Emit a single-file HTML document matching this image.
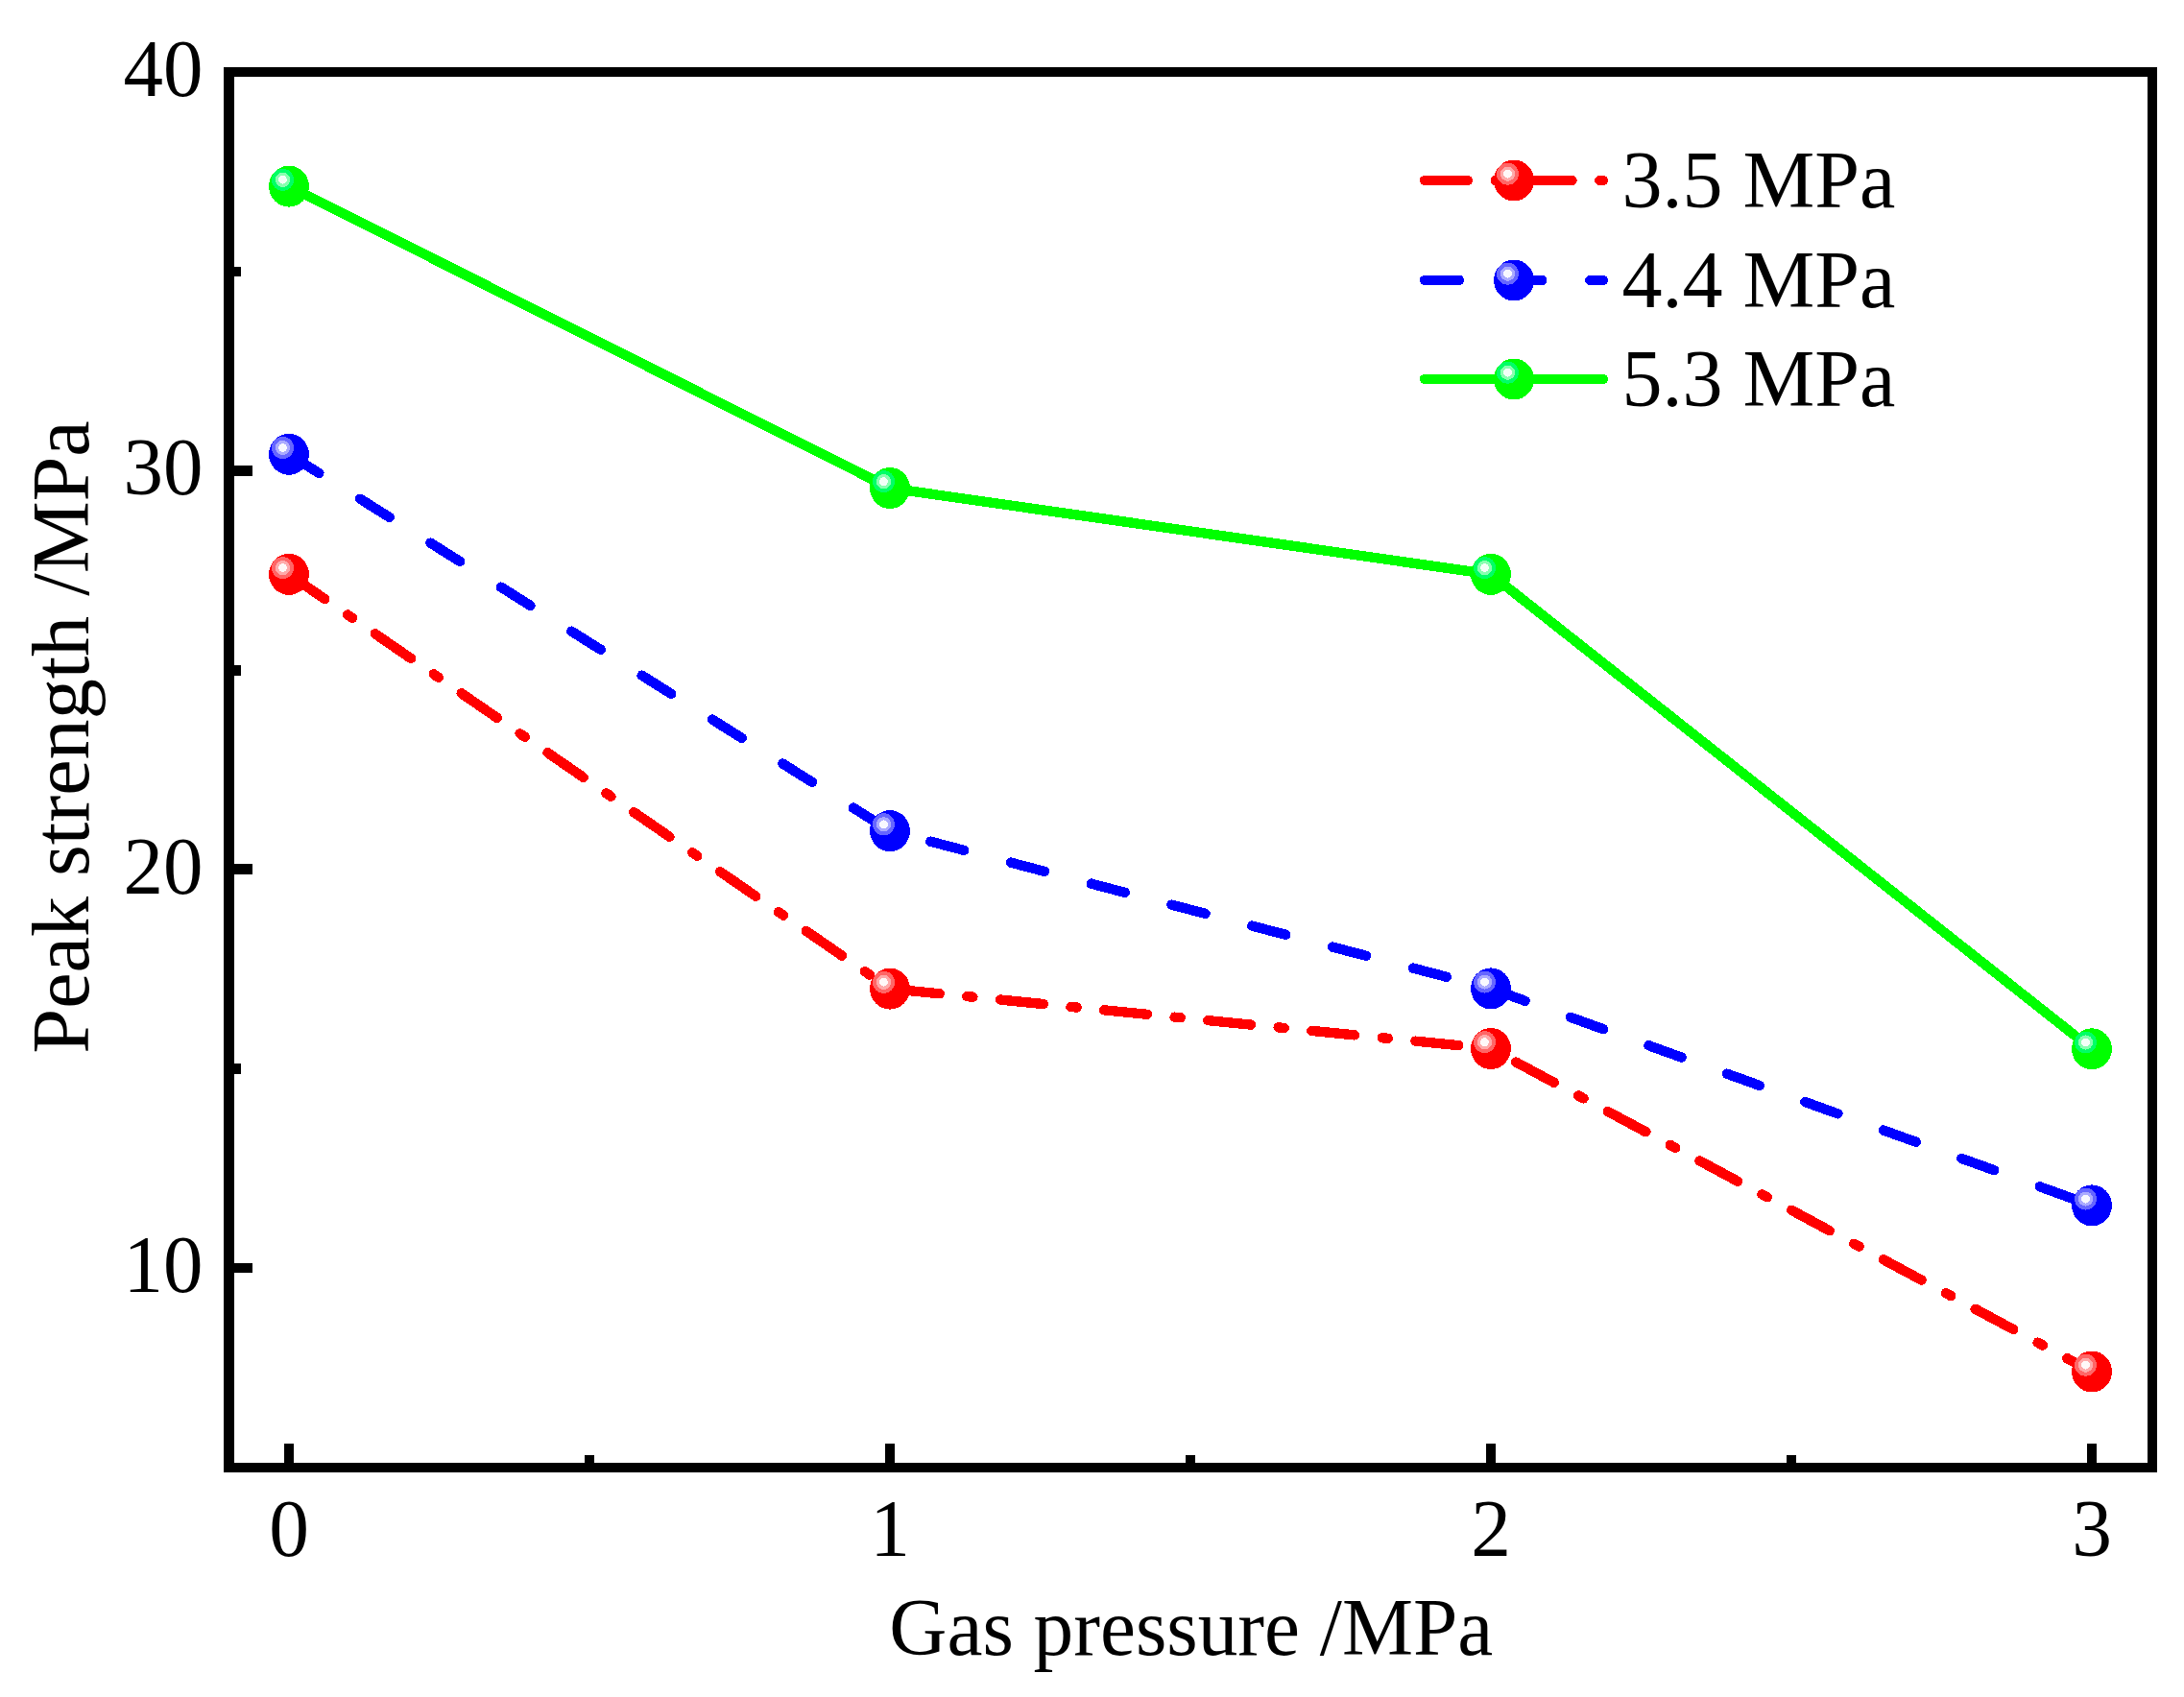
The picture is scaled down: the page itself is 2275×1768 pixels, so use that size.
<!DOCTYPE html>
<html lang="en"><head><meta charset="utf-8"><title>Peak strength vs gas pressure</title>
<style>html,body{margin:0;padding:0;background:#fff;}svg{display:block;}text{font-family:"Liberation Serif",serif;font-size:83.4px;fill:#000;}</style></head><body>
<svg width="2275" height="1768" viewBox="0 0 2275 1768">
<rect x="0" y="0" width="2275" height="1768" fill="#fff"/>
<g shape-rendering="crispEdges">
<line x1="301.0" y1="598.4" x2="927.0" y2="1030.1" fill="none" stroke="#ff0000" stroke-width="10.4" stroke-linecap="round" stroke-linejoin="round" stroke-dasharray="45.20 28.90 6.10 28.90" stroke-dashoffset="0.00"/><line x1="927.0" y1="1030.1" x2="1553.0" y2="1092.5" fill="none" stroke="#ff0000" stroke-width="10.4" stroke-linecap="round" stroke-linejoin="round" stroke-dasharray="45.01 28.78 6.07 28.78" stroke-dashoffset="101.68"/><line x1="1553.0" y1="1092.5" x2="2179.0" y2="1429.0" fill="none" stroke="#ff0000" stroke-width="10.4" stroke-linecap="round" stroke-linejoin="round" stroke-dasharray="45.01 28.78 6.07 28.78" stroke-dashoffset="78.98"/>
<ellipse cx="301.0" cy="598.4" rx="20.9" ry="21.5" fill="#ff0000"/><circle cx="294.5" cy="591.6" r="11.5" fill="#ff6666"/><circle cx="294.5" cy="591.6" r="7.6" fill="#ffaaaa"/><circle cx="294.5" cy="591.6" r="4.4" fill="#fff8f8"/>
<ellipse cx="927.0" cy="1030.1" rx="20.9" ry="21.5" fill="#ff0000"/><circle cx="920.5" cy="1023.3" r="11.5" fill="#ff6666"/><circle cx="920.5" cy="1023.3" r="7.6" fill="#ffaaaa"/><circle cx="920.5" cy="1023.3" r="4.4" fill="#fff8f8"/>
<ellipse cx="1553.0" cy="1092.5" rx="20.9" ry="21.5" fill="#ff0000"/><circle cx="1546.5" cy="1085.7" r="11.5" fill="#ff6666"/><circle cx="1546.5" cy="1085.7" r="7.6" fill="#ffaaaa"/><circle cx="1546.5" cy="1085.7" r="4.4" fill="#fff8f8"/>
<ellipse cx="2179.0" cy="1429.0" rx="20.9" ry="21.5" fill="#ff0000"/><circle cx="2172.5" cy="1422.2" r="11.5" fill="#ff6666"/><circle cx="2172.5" cy="1422.2" r="7.6" fill="#ffaaaa"/><circle cx="2172.5" cy="1422.2" r="4.4" fill="#fff8f8"/>
<line x1="301.0" y1="473.3" x2="927.0" y2="865.6" fill="none" stroke="#0000ff" stroke-width="10.4" stroke-linecap="round" stroke-linejoin="round" stroke-dasharray="36.20 50.40" stroke-dashoffset="85.80"/><line x1="927.0" y1="865.6" x2="1553.0" y2="1029.9" fill="none" stroke="#0000ff" stroke-width="10.4" stroke-linecap="round" stroke-linejoin="round" stroke-dasharray="36.20 50.40" stroke-dashoffset="42.97"/><line x1="1553.0" y1="1029.9" x2="2179.0" y2="1255.9" fill="none" stroke="#0000ff" stroke-width="10.4" stroke-linecap="round" stroke-linejoin="round" stroke-dasharray="36.20 50.40" stroke-dashoffset="84.97"/>
<ellipse cx="301.0" cy="473.3" rx="20.9" ry="21.5" fill="#0000ff"/><circle cx="294.5" cy="466.5" r="11.5" fill="#6666ff"/><circle cx="294.5" cy="466.5" r="7.6" fill="#aaaaff"/><circle cx="294.5" cy="466.5" r="4.4" fill="#f8f8ff"/>
<ellipse cx="927.0" cy="865.6" rx="20.9" ry="21.5" fill="#0000ff"/><circle cx="920.5" cy="858.8" r="11.5" fill="#6666ff"/><circle cx="920.5" cy="858.8" r="7.6" fill="#aaaaff"/><circle cx="920.5" cy="858.8" r="4.4" fill="#f8f8ff"/>
<ellipse cx="1553.0" cy="1029.9" rx="20.9" ry="21.5" fill="#0000ff"/><circle cx="1546.5" cy="1023.1" r="11.5" fill="#6666ff"/><circle cx="1546.5" cy="1023.1" r="7.6" fill="#aaaaff"/><circle cx="1546.5" cy="1023.1" r="4.4" fill="#f8f8ff"/>
<ellipse cx="2179.0" cy="1255.9" rx="20.9" ry="21.5" fill="#0000ff"/><circle cx="2172.5" cy="1249.1" r="11.5" fill="#6666ff"/><circle cx="2172.5" cy="1249.1" r="7.6" fill="#aaaaff"/><circle cx="2172.5" cy="1249.1" r="4.4" fill="#f8f8ff"/>
<polyline points="301.0,194.1 927.0,508.5 1553.0,598.4 2179.0,1092.8" fill="none" stroke="#00ff00" stroke-width="10.4" stroke-linecap="round" stroke-linejoin="round"/>
<ellipse cx="301.0" cy="194.1" rx="20.9" ry="21.5" fill="#00ff00"/><circle cx="294.5" cy="187.3" r="11.5" fill="#00ff66"/><circle cx="294.5" cy="187.3" r="7.6" fill="#88ffb0"/><circle cx="294.5" cy="187.3" r="4.4" fill="#f4fff8"/>
<ellipse cx="927.0" cy="508.5" rx="20.9" ry="21.5" fill="#00ff00"/><circle cx="920.5" cy="501.7" r="11.5" fill="#00ff66"/><circle cx="920.5" cy="501.7" r="7.6" fill="#88ffb0"/><circle cx="920.5" cy="501.7" r="4.4" fill="#f4fff8"/>
<ellipse cx="1553.0" cy="598.4" rx="20.9" ry="21.5" fill="#00ff00"/><circle cx="1546.5" cy="591.6" r="11.5" fill="#00ff66"/><circle cx="1546.5" cy="591.6" r="7.6" fill="#88ffb0"/><circle cx="1546.5" cy="591.6" r="4.4" fill="#f4fff8"/>
<ellipse cx="2179.0" cy="1092.8" rx="20.9" ry="21.5" fill="#00ff00"/><circle cx="2172.5" cy="1086.0" r="11.5" fill="#00ff66"/><circle cx="2172.5" cy="1086.0" r="7.6" fill="#88ffb0"/><circle cx="2172.5" cy="1086.0" r="4.4" fill="#f4fff8"/>
</g>
<g shape-rendering="crispEdges" fill="#000">
<rect x="233" y="70" width="2014" height="10"/>
<rect x="233" y="1524" width="2014" height="10"/>
<rect x="233" y="70" width="11" height="1464"/>
<rect x="2237" y="70" width="10" height="1464"/>
<rect x="244" y="485" width="19" height="11"/>
<rect x="244" y="900" width="19" height="11"/>
<rect x="244" y="1316" width="19" height="10"/>
<rect x="244" y="278" width="7" height="10"/>
<rect x="244" y="693" width="7" height="11"/>
<rect x="244" y="1108" width="7" height="11"/>
<rect x="296" y="1504" width="10" height="20"/>
<rect x="922" y="1504" width="10" height="20"/>
<rect x="1548" y="1504" width="10" height="20"/>
<rect x="2174" y="1504" width="10" height="20"/>
<rect x="609" y="1516" width="10" height="8"/>
<rect x="1235" y="1516" width="10" height="8"/>
<rect x="1861" y="1516" width="10" height="8"/>
</g>
<text transform="translate(211.4 1345.8) scale(0.994 1.022)" text-anchor="end">10</text>
<text transform="translate(211.4 930.5) scale(0.994 1.022)" text-anchor="end">20</text>
<text transform="translate(211.4 515.2) scale(0.994 1.022)" text-anchor="end">30</text>
<text transform="translate(211.4 99.9) scale(0.994 1.022)" text-anchor="end">40</text>
<text transform="translate(301.0 1621.0) scale(1.0 1.022)" text-anchor="middle">0</text>
<text transform="translate(927.0 1621.0) scale(1.0 1.022)" text-anchor="middle">1</text>
<text transform="translate(1553.0 1621.0) scale(1.0 1.022)" text-anchor="middle">2</text>
<text transform="translate(2179.0 1621.0) scale(1.0 1.022)" text-anchor="middle">3</text>
<text transform="translate(1240.8 1724.0) scale(0.9985 1.022)" text-anchor="middle">Gas pressure /MPa</text>
<text transform="translate(92.0 768.0) rotate(-90) scale(1.0094 1.022)" text-anchor="middle">Peak strength /MPa</text>
<g shape-rendering="crispEdges">
<line x1="1484.0" y1="188.0" x2="1670.0" y2="188.0" fill="none" stroke="#ff0000" stroke-width="10.4" stroke-linecap="round" stroke-linejoin="round" stroke-dasharray="44.99 28.77 6.07 28.77" stroke-dashoffset="0.00"/>
<ellipse cx="1577.0" cy="188.0" rx="20.9" ry="21.5" fill="#ff0000"/><circle cx="1570.5" cy="181.2" r="11.5" fill="#ff6666"/><circle cx="1570.5" cy="181.2" r="7.6" fill="#ffaaaa"/><circle cx="1570.5" cy="181.2" r="4.4" fill="#fff8f8"/>
<line x1="1484.0" y1="292.0" x2="1670.0" y2="292.0" fill="none" stroke="#0000ff" stroke-width="10.4" stroke-linecap="round" stroke-linejoin="round" stroke-dasharray="36.03 50.17" stroke-dashoffset="0.00"/>
<ellipse cx="1577.0" cy="292.0" rx="20.9" ry="21.5" fill="#0000ff"/><circle cx="1570.5" cy="285.2" r="11.5" fill="#6666ff"/><circle cx="1570.5" cy="285.2" r="7.6" fill="#aaaaff"/><circle cx="1570.5" cy="285.2" r="4.4" fill="#f8f8ff"/>
<polyline points="1484.0,395.0 1670.0,395.0" fill="none" stroke="#00ff00" stroke-width="10.4" stroke-linecap="round" stroke-linejoin="round"/>
<ellipse cx="1577.0" cy="395.0" rx="20.9" ry="21.5" fill="#00ff00"/><circle cx="1570.5" cy="388.2" r="11.5" fill="#00ff66"/><circle cx="1570.5" cy="388.2" r="7.6" fill="#88ffb0"/><circle cx="1570.5" cy="388.2" r="4.4" fill="#f4fff8"/>
</g>
<text transform="translate(1689.5 215.8) scale(1.008 1.022)" text-anchor="start">3.5 MPa</text>
<text transform="translate(1689.5 319.8) scale(1.008 1.022)" text-anchor="start">4.4 MPa</text>
<text transform="translate(1689.5 422.9) scale(1.008 1.022)" text-anchor="start">5.3 MPa</text>
</svg></body></html>
